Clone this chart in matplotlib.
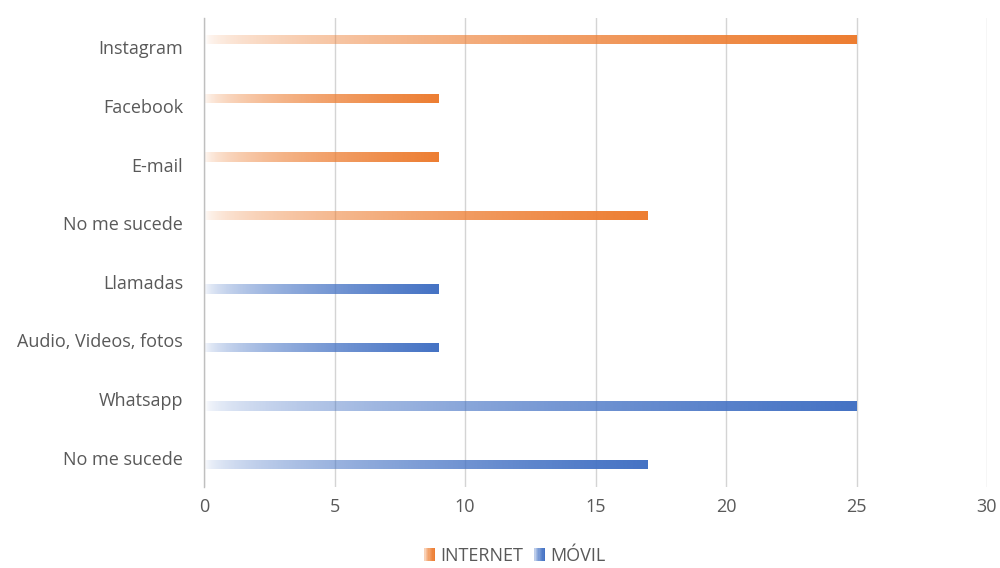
import numpy as np
import matplotlib
matplotlib.use("Agg")
import matplotlib.pyplot as plt
from matplotlib.legend_handler import HandlerBase
from matplotlib.patches import Rectangle
from matplotlib.colors import to_rgb

# ---- data ----
categories = ["Instagram", "Facebook", "E-mail", "No me sucede",
              "Llamadas", "Audio, Videos, fotos", "Whatsapp", "No me sucede"]
internet = [25, 9, 9, 17, 0, 0, 0, 0]
movil = [0, 0, 0, 0, 9, 9, 25, 17]
series_names = ["INTERNET", "MÓVIL"]
xticks = [0, 5, 10, 15, 20, 25, 30]

ORANGE = "#ED7D31"
BLUE = "#4472C4"
TEXT = "#595959"

plt.rcParams['font.family'] = ['Open Sans', 'DejaVu Sans']

fig = plt.figure(figsize=(10, 5.68), dpi=100)
ax = fig.add_axes([0.204, 0.1426, 0.783, 0.8257])

y = np.arange(len(categories))
h = 0.16


def ramp_image(color, n=256):
    r, g, b = to_rgb(color)
    t = np.linspace(0, 1, n)
    a = np.sqrt(t)
    img = np.zeros((1, n, 4))
    img[0, :, 0] = r
    img[0, :, 1] = g
    img[0, :, 2] = b
    img[0, :, 3] = a
    return img


for vals, off, col in [(internet, -0.13, ORANGE), (movil, 0.12, BLUE)]:
    bars = ax.barh(y + off, vals, height=h, color='none', edgecolor='none', zorder=2)
    for bar, v in zip(bars, vals):
        if v <= 0:
            continue
        x0, y0 = bar.get_x(), bar.get_y()
        w, hh = bar.get_width(), bar.get_height()
        im = ax.imshow(ramp_image(col), extent=[x0, x0 + w, y0 + hh, y0],
                       aspect='auto', interpolation='bilinear', zorder=2)
        im.set_clip_path(bar)

ax.set_xlim(0, 30)
ax.set_ylim(len(categories) - 0.5, -0.5)
ax.set_aspect('auto')
ax.set_xticks(xticks)
ax.set_xticklabels([str(v) for v in xticks])
ax.set_yticks(y)
ax.set_yticklabels(categories)
ax.tick_params(axis='both', length=0, labelsize=13, colors=TEXT)
ax.tick_params(axis='y', pad=15)
ax.tick_params(axis='x', pad=8)

ax.grid(axis='x', color='#D4D4D4', linewidth=1, zorder=0)
ax.set_axisbelow(True)
for s in ['top', 'right', 'bottom']:
    ax.spines[s].set_visible(False)
ax.spines['left'].set_color('#BFBFBF')
ax.spines['left'].set_linewidth(1)


class GradientHandler(HandlerBase):
    def __init__(self, color):
        super().__init__()
        self.color = color

    def create_artists(self, legend, orig_handle, xdescent, ydescent,
                       width, height, fontsize, trans):
        r, g, b = to_rgb(self.color)
        n = 8
        arts = []
        for i in range(n):
            a = np.sqrt((i + 1) / n)
            c = (1 - a) * np.ones(3) + a * np.array([r, g, b])
            rect = Rectangle((xdescent + width * i / n, -ydescent),
                             width / n + 0.05, height, facecolor=c,
                             edgecolor='none', transform=trans)
            arts.append(rect)
        return arts


h1 = Rectangle((0, 0), 1, 1)
h2 = Rectangle((0, 0), 1, 1)
fig.legend([h1, h2], series_names, loc='center', bbox_to_anchor=(0.515, 0.021),
           ncol=2, frameon=False, fontsize=13, labelcolor=TEXT,
           handlelength=0.6, handleheight=0.7, handletextpad=0.3,
           columnspacing=0.6,
           handler_map={h1: GradientHandler(ORANGE), h2: GradientHandler(BLUE)})

fig.savefig("out.png", dpi=100)
